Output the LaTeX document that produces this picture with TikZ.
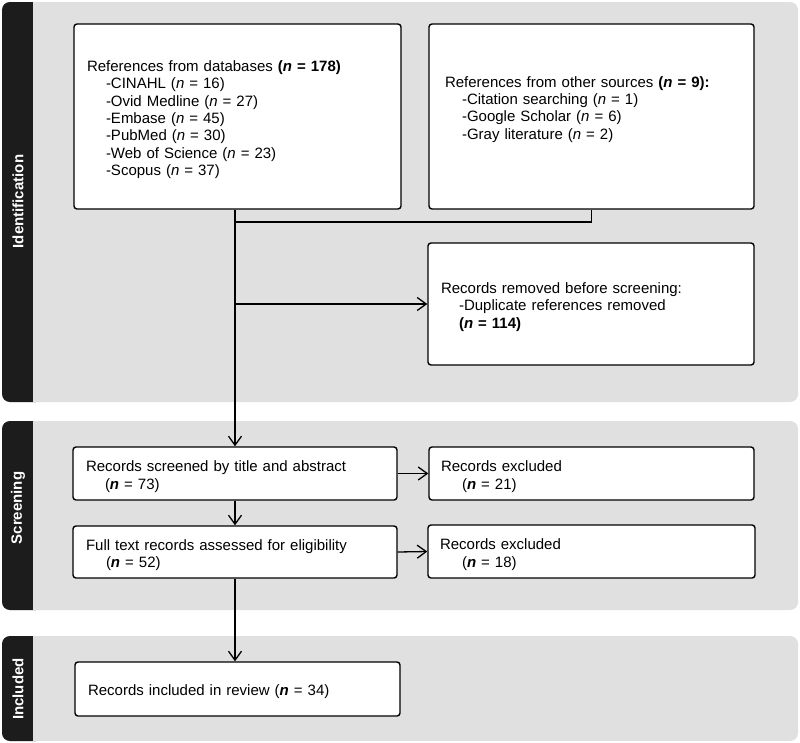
\documentclass[tikz,border=0pt]{standalone}
\usepackage{fontspec}
\setmainfont{Liberation Sans}
\usetikzlibrary{arrows.meta}
\definecolor{bandgray}{HTML}{E0E0E0}
\definecolor{tabblack}{HTML}{1C1C1C}
\newcommand{\myind}{\hspace*{19pt}}
\newcommand{\myn}{\textit{n}}
\newcommand{\mybn}{\textbf{\textit{n}}}
\newcommand{\mystrut}{\rule{0pt}{17pt}}
\begin{document}
\begin{tikzpicture}[x=1pt,y=-1pt,
  box/.style={draw=black, line width=1.4pt, rounded corners=3pt, fill=white,
    align=left, inner xsep=13pt, inner ysep=0pt,
    font=\fontsize{15}{17.3}\selectfont, anchor=center},
  conn/.style={line width=1.3pt, draw=black},
  arr/.style={conn, -{Straight Barb[length=9pt,width=13pt]}},
  tablabel/.style={rotate=90, text=white, font=\bfseries\fontsize{15}{18}\selectfont},
  bandfill/.style={fill=bandgray, rounded corners=8pt},
  tabfill/.style={fill=tabblack, rounded corners=8pt}
]
\useasboundingbox (0,0) rectangle (800,742);
\fill[white] (0,0) rectangle (800,742);

% bands
\fill[bandfill] (2,2) rectangle (798,402);
\fill[tabfill] (2,2) rectangle (44,402);
\fill[bandgray] (33,2) rectangle (50,402);
\node[tablabel] (labid) at (18,201.5) {Identification};

\fill[bandfill] (2,421) rectangle (798,610);
\fill[tabfill] (2,421) rectangle (44,610);
\fill[bandgray] (33,421) rectangle (50,610);
\node[tablabel] (labscr) at (18,508) {Screening};

\fill[bandfill] (2,636) rectangle (798,741);
\fill[tabfill] (2,636) rectangle (44,741);
\fill[bandgray] (33,636) rectangle (50,741);
\node[tablabel] (labinc) at (18,689) {Included};

% boxes
\node[box, text width=301pt, minimum height=185pt] (db) at (237.5,116.5)
{\mystrut References from databases \textbf{(\myn{} = 178)}\\
\myind-CINAHL (\myn{} = 16)\\
\myind-Ovid Medline (\myn{} = 27)\\
\myind-Embase (\myn{} = 45)\\
\myind-PubMed (\myn{} = 30)\\
\myind-Web of Science (\myn{} = 23)\\
\myind-Scopus (\myn{} = 37)};

\node[box, inner xsep=16pt, text width=293pt, minimum height=185pt] (src) at (591.5,116.5)
{References from other sources \textbf{(\myn{} = 9):}\\
\hspace*{17pt}-Citation searching (\myn{} = 1)\\
\hspace*{17pt}-Google Scholar (\myn{} = 6)\\
\hspace*{17pt}-Gray literature (\myn{} = 2)\\
\mbox{}};

\node[box, text width=300pt, minimum height=122pt] (rem) at (591,304)
{\mystrut Records removed before screening:\\
\hspace*{18pt}-Duplicate references removed\\
\hspace*{18pt}\textbf{(\myn{} = 114)}};

\node[box, text width=298pt, minimum height=53pt] (scr) at (235,473.5)
{\mystrut Records screened by title and abstract\\
\myind(\mybn{} = 73)};

\node[box, inner xsep=12pt, text width=301pt, minimum height=53pt] (exa) at (591.5,473.5)
{\mystrut Records excluded\\
\hspace*{21pt}(\mybn{} = 21)};

\node[box, text width=298pt, minimum height=52pt] (full) at (235,552)
{\mystrut Full text records assessed for eligibility\\
\hspace*{20pt}(\mybn{} = 52)};

\node[box, inner xsep=12pt, text width=303pt, minimum height=53pt] (exb) at (591.5,551.5)
{\mystrut Records excluded\\
\hspace*{22pt}(\mybn{} = 18)};

\node[box, text width=299pt, minimum height=54pt] (inc) at (237.5,689)
{\mystrut Records included in review (\mybn{} = 34)};

% connectors
\coordinate (mj) at (235,222);
\draw[conn] (src.south) |- (mj);
\draw[arr] (scr.north |- db.south) -- (scr.north);
\draw[arr] (scr.north |- rem.west) -- (rem.west);
\draw[arr] (scr.east) -- (exa.west);
\draw[arr] (scr.south) -- (full.north);
\draw[arr] (full.east) -- (exb.west);
\draw[arr] (full.south) -- (full.south |- inc.north);
\end{tikzpicture}
\end{document}
